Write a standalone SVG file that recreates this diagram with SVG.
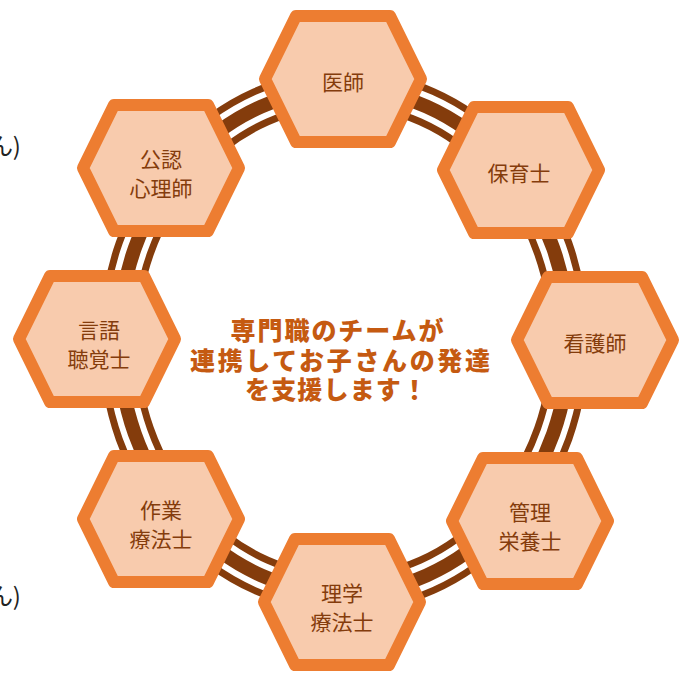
<svg xmlns="http://www.w3.org/2000/svg" width="687" height="679" viewBox="0 0 687 679">
<defs>
<style>
.hex{fill:#F8CBAD;stroke:#ED7D31;stroke-width:12;stroke-linejoin:round}
.lbl{font-family:"Noto Sans CJK JP","Noto Sans",sans-serif;font-size:21px;fill:#843C0C;text-anchor:middle;dominant-baseline:central}
.ctr{font-family:"Noto Sans CJK JP","Noto Sans",sans-serif;font-size:25px;font-weight:900;fill:#C55A11;text-anchor:middle;dominant-baseline:central}
.edge{font-family:"Noto Sans CJK JP","Noto Sans",sans-serif;font-size:24px;fill:#222;text-anchor:end}
</style>
<path id="hx" class="hex" d="M-78,0 L-47,-63 L47,-63 L78,0 L47,63 L-47,63 Z"/>
</defs>
<rect width="687" height="679" fill="#ffffff"/>
<text class="edge" x="21" y="155">ん)</text>
<text class="edge" x="21" y="605">ん)</text>
<g id="connectors">
<ellipse cx="344" cy="341" rx="225" ry="252" fill="none" stroke="#843C0C" stroke-width="40"/>
<ellipse cx="344" cy="341" rx="225" ry="252" fill="none" stroke="#ffffff" stroke-width="26"/>
<ellipse cx="344" cy="341" rx="225" ry="252" fill="none" stroke="#843C0C" stroke-width="14"/>
</g>
<g id="n1" transform="translate(343,79)"><use href="#hx"/><text class="lbl" x="0" y="2">医師</text></g>
<g id="n2" transform="translate(521,170)"><use href="#hx"/><text class="lbl" x="-2" y="2">保育士</text></g>
<g id="n3" transform="translate(595,340)"><use href="#hx"/><text class="lbl" x="0" y="2">看護師</text></g>
<g id="n4" transform="translate(530,521)"><use href="#hx"/><text class="lbl" x="0" y="-10">管理</text><text class="lbl" x="0" y="19">栄養士</text></g>
<g id="n5" transform="translate(342,602)"><use href="#hx"/><text class="lbl" x="0" y="-10">理学</text><text class="lbl" x="0" y="19">療法士</text></g>
<g id="n6" transform="translate(161,519)"><use href="#hx"/><text class="lbl" x="0" y="-10">作業</text><text class="lbl" x="0" y="19">療法士</text></g>
<g id="n7" transform="translate(97,339)"><use href="#hx"/><text class="lbl" x="2" y="-10">言語</text><text class="lbl" x="2" y="19">聴覚士</text></g>
<g id="n8" transform="translate(161,168)"><use href="#hx"/><text class="lbl" x="0" y="-10">公認</text><text class="lbl" x="0" y="19">心理師</text></g>
<g id="center">
<text class="ctr" x="337" y="329" textLength="213" lengthAdjust="spacing">専門職のチームが</text>
<text class="ctr" x="340" y="359" textLength="300" lengthAdjust="spacing">連携してお子さんの発達</text>
<text class="ctr" x="336" y="388" textLength="182" lengthAdjust="spacing">を支援します！</text>
</g>
</svg>
